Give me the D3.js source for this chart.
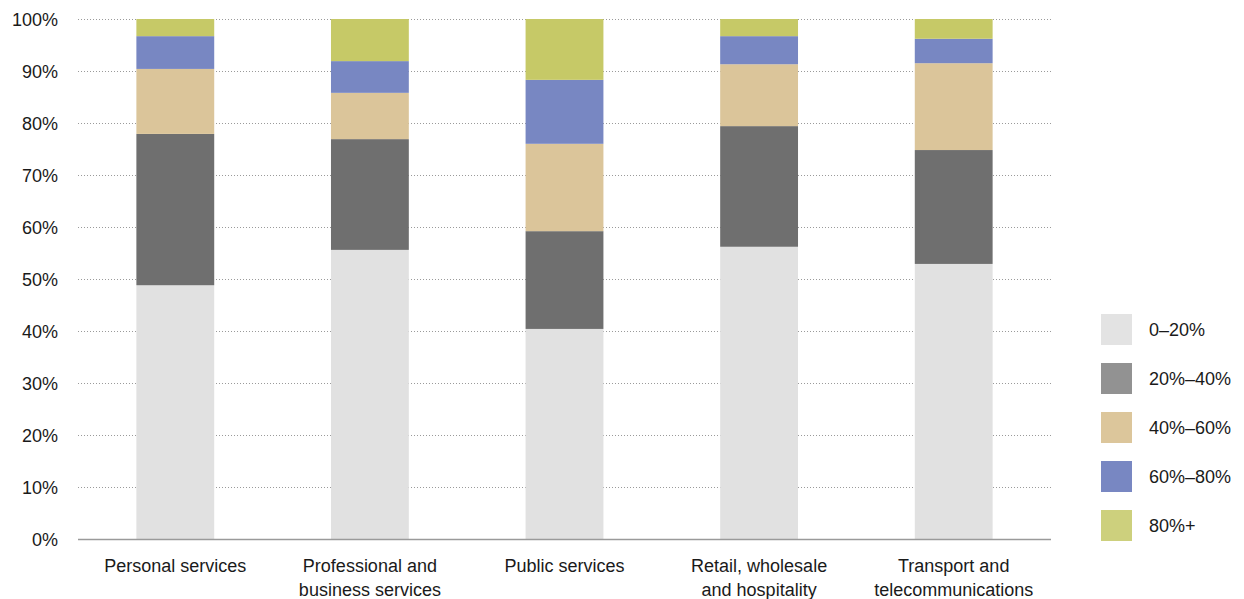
<!DOCTYPE html>
<html>
<head>
<meta charset="utf-8">
<script src="https://cdn.jsdelivr.net/npm/d3@7"></script>
<style>
  html, body { margin: 0; padding: 0; background: #fff; }
  svg { display: block; }
  text { font-family: "Liberation Sans", Arial, sans-serif; fill: #1a1a1a; }
</style>
</head>
<body>
<svg id="chart" width="1244" height="599"></svg>
<script>
// Sectors along the x axis (lines split with "\n")
const categories = [
  "Personal services",
  "Professional and\nbusiness services",
  "Public services",
  "Retail, wholesale\nand hospitality",
  "Transport and\ntelecommunications"
];

// Share bands, bottom to top
const bands = ["0–20%", "20%–40%", "40%–60%", "60%–80%", "80%+"];

// Percentage of each sector falling in each band
const band0to20  = [48.8, 55.6, 40.4, 56.2, 52.9];
const band20to40 = [29.1, 21.3, 18.8, 23.2, 21.9];
const band40to60 = [12.5,  8.9, 16.8, 11.9, 16.7];
const band60to80 = [ 6.3,  6.1, 12.3,  5.4,  4.7];
const band80plus = [ 3.3,  8.1, 11.7,  3.3,  3.8];

const yTicks = [0, 10, 20, 30, 40, 50, 60, 70, 80, 90, 100];

const barColors    = ["#e1e1e1", "#6f6f6f", "#dbc59a", "#7887c2", "#c6c967"];
const legendColors = ["#e3e3e3", "#929292", "#dcc69b", "#7887c2", "#cdd07d"];

const seriesValues = [band0to20, band20to40, band40to60, band60to80, band80plus];
const rows = categories.map((c, i) => {
  const r = { category: c };
  bands.forEach((b, k) => { r[b] = seriesValues[k][i]; });
  return r;
});

const FONT_SIZE = 18;
const svg = d3.select("#chart");
const margin = { left: 78, right: 193, top: 19, bottom: 60 };
const width = 1244, height = 599;

const x = d3.scaleBand()
  .domain(categories)
  .range([margin.left, width - margin.right])
  .paddingInner(0.6)
  .paddingOuter(0.3);

const y = d3.scaleLinear()
  .domain([0, 100])
  .range([height - margin.bottom, margin.top]);

// Dotted horizontal gridlines
svg.append("g")
  .selectAll("line")
  .data(yTicks.filter(d => d > 0))
  .join("line")
  .attr("x1", margin.left)
  .attr("x2", width - margin.right)
  .attr("y1", d => y(d) + 0.5)
  .attr("y2", d => y(d) + 0.5)
  .attr("stroke", "#9a9a9a")
  .attr("stroke-width", 1)
  .attr("stroke-dasharray", "1,2");

// Stacked bars
const stack = d3.stack().keys(bands);
const layers = stack(rows);

svg.append("g")
  .selectAll("g")
  .data(layers)
  .join("g")
  .attr("fill", (d, i) => barColors[i])
  .selectAll("rect")
  .data(d => d)
  .join("rect")
  .attr("x", d => x(d.data.category))
  .attr("width", x.bandwidth())
  .attr("y", d => y(Math.min(d[1], 100)))
  .attr("height", d => y(d[0]) - y(Math.min(d[1], 100)));

// Baseline
svg.append("line")
  .attr("x1", margin.left)
  .attr("x2", width - margin.right)
  .attr("y1", y(0) + 0.5)
  .attr("y2", y(0) + 0.5)
  .attr("stroke", "#9a9a9a")
  .attr("stroke-width", 1.5);

// Y axis labels
const yAxis = d3.axisLeft(y)
  .tickValues(yTicks)
  .tickFormat(d => d + "%")
  .tickSize(0)
  .tickPadding(20);

svg.append("g")
  .attr("transform", `translate(${margin.left},0)`)
  .call(yAxis)
  .call(g => g.select(".domain").remove())
  .call(g => g.selectAll("text")
    .attr("font-size", FONT_SIZE)
    .attr("fill", "#1a1a1a")
    .attr("dy", "0.36em")
    .style("font-family", "\"Liberation Sans\", Arial, sans-serif"));

// X axis category labels
const xAxis = d3.axisBottom(x).tickSize(0).tickFormat("");
const xg = svg.append("g")
  .attr("transform", `translate(0,${y(0)})`)
  .call(xAxis)
  .call(g => g.select(".domain").remove());

xg.selectAll(".tick")
  .append("text")
  .attr("text-anchor", "middle")
  .attr("font-size", FONT_SIZE)
  .attr("fill", "#1a1a1a")
  .each(function (d) {
    const lines = d.split("\n");
    const t = d3.select(this);
    lines.forEach((ln, i) => {
      t.append("tspan")
        .attr("x", 0)
        .attr("y", 33 + i * 24)
        .text(ln);
    });
  });

// Legend
const legend = svg.append("g")
  .attr("transform", "translate(1101,314)");

const item = legend.selectAll("g")
  .data(bands)
  .join("g")
  .attr("transform", (d, i) => `translate(0,${i * 49})`);

item.append("rect")
  .attr("width", 31)
  .attr("height", 31)
  .attr("fill", (d, i) => legendColors[i]);

item.append("text")
  .attr("x", 48)
  .attr("y", 16)
  .attr("dy", "0.36em")
  .attr("font-size", FONT_SIZE)
  .text(d => d);
</script>
</body>
</html>
